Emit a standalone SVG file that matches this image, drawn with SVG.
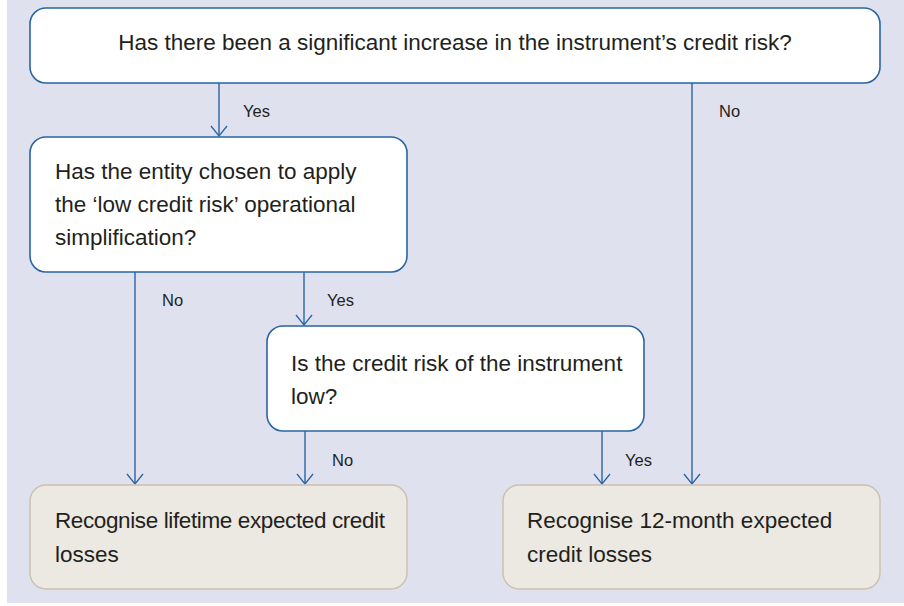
<svg xmlns="http://www.w3.org/2000/svg" width="904" height="606" viewBox="0 0 904 606">
<defs>
<marker id="arr" markerWidth="20" markerHeight="14" refX="9" refY="11" orient="0" markerUnits="userSpaceOnUse">
<path d="M1,1 L9,11 L17,1" fill="none" stroke="#2a64a3" stroke-width="1.3"/>
</marker>
<style>
.q{fill:#ffffff;stroke:#2a64a3;stroke-width:1.6}
.r{fill:#ece8e2;stroke:#cbbfae;stroke-width:1.4}
.t{font-family:"Liberation Sans",Arial,sans-serif;font-size:22.5px;fill:#231f20}
.l{font-family:"Liberation Sans",Arial,sans-serif;font-size:16.5px;fill:#231f20}
.c{fill:none;stroke:#2a64a3;stroke-width:1.4}
</style>
</defs>
<rect x="7" y="0" width="897" height="603" fill="#dfe1ef"/>
<g id="connectors">
<line class="c" x1="219" y1="83" x2="219" y2="136" marker-end="url(#arr)"/>
<line class="c" x1="692" y1="83" x2="692" y2="484" marker-end="url(#arr)"/>
<line class="c" x1="135" y1="272" x2="135" y2="484" marker-end="url(#arr)"/>
<line class="c" x1="304" y1="272" x2="304" y2="325" marker-end="url(#arr)"/>
<line class="c" x1="305" y1="431" x2="305" y2="484" marker-end="url(#arr)"/>
<line class="c" x1="602" y1="431" x2="602" y2="484" marker-end="url(#arr)"/>
<text class="l" x="243" y="117">Yes</text>
<text class="l" x="719" y="117">No</text>
<text class="l" x="162" y="306">No</text>
<text class="l" x="327" y="306">Yes</text>
<text class="l" x="332" y="466">No</text>
<text class="l" x="625" y="466">Yes</text>
</g>
<g id="q1">
<rect class="q" x="30" y="8" width="850" height="75" rx="16"/>
<text class="t" x="455" y="50" text-anchor="middle">Has there been a significant increase in the instrument’s credit risk?</text>
</g>
<g id="q2">
<rect class="q" x="30" y="137" width="377" height="135" rx="16"/>
<text class="t" x="55" y="179">Has the entity chosen to apply</text>
<text class="t" x="55" y="212">the ‘low credit risk’ operational</text>
<text class="t" x="55" y="245">simplification?</text>
</g>
<g id="q3">
<rect class="q" x="267" y="326" width="377" height="105" rx="16"/>
<text class="t" x="291" y="371">Is the credit risk of the instrument</text>
<text class="t" x="291" y="404">low?</text>
</g>
<g id="lifetime">
<rect class="r" x="30" y="485" width="377" height="104" rx="16"/>
<text class="t" x="55" y="528" textLength="330" lengthAdjust="spacing">Recognise lifetime expected credit</text>
<text class="t" x="55" y="562">losses</text>
</g>
<g id="twelve">
<rect class="r" x="503" y="485" width="377" height="104" rx="16"/>
<text class="t" x="527" y="528">Recognise 12-month expected</text>
<text class="t" x="527" y="562">credit losses</text>
</g>
</svg>
